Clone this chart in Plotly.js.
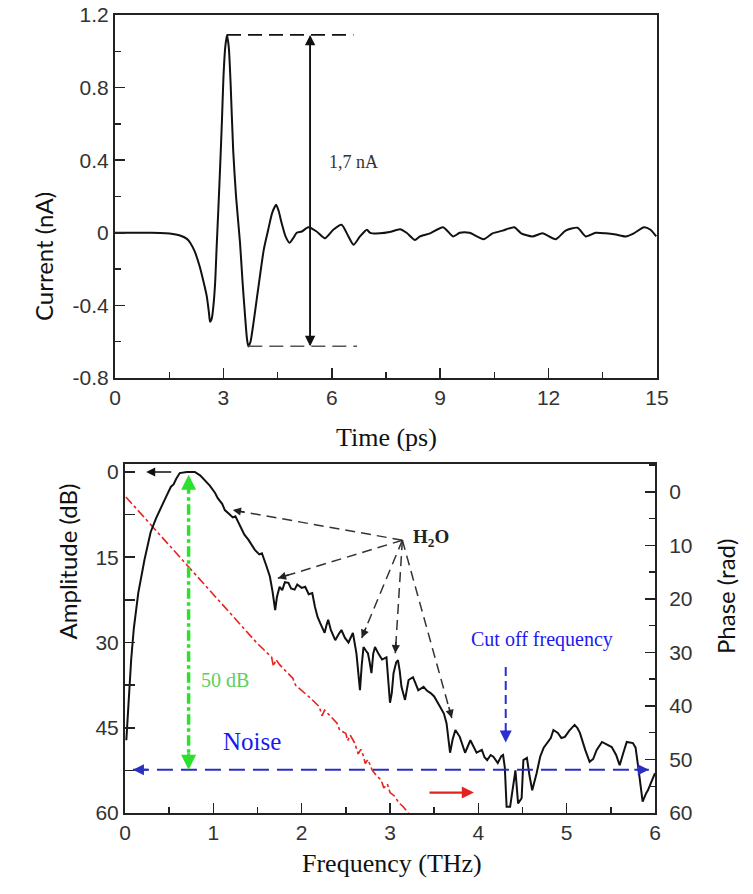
<!DOCTYPE html>
<html>
<head>
<meta charset="utf-8">
<script src="https://cdn.plot.ly/plotly-3.0.1.min.js"></script>
<style>
  html, body { margin: 0; padding: 0; background: #fff; }
  #chart { width: 753px; height: 894px; }
</style>
</head>
<body>
<div id="chart"></div>
<script>
// ---------- Top panel: THz pulse current vs time ----------
const timePs = [0, 0.5, 1.0, 1.4, 1.6, 1.8, 2.0, 2.08, 2.2, 2.35, 2.45, 2.54, 2.6, 2.63, 2.68, 2.72, 2.77, 2.81, 2.86, 2.91, 2.96, 3.0, 3.05, 3.1, 3.15, 3.2, 3.27, 3.35, 3.46, 3.53, 3.6, 3.65, 3.69, 3.75, 3.83, 3.92, 4.01, 4.12, 4.24, 4.35, 4.46, 4.53, 4.61, 4.72, 4.83, 4.93, 5.03, 5.17, 5.35, 5.58, 5.81, 6.04, 6.27, 6.46, 6.6, 6.78, 6.97, 7.06, 7.33, 7.6, 7.89, 8.07, 8.3, 8.44, 8.72, 9.08, 9.36, 9.54, 9.81, 10.2, 10.45, 10.73, 11.05, 11.24, 11.55, 11.83, 12.2, 12.47, 12.8, 13.03, 13.3, 13.58, 13.86, 14.13, 14.36, 14.64, 14.82, 14.98];
const currentNa = [0, 0, 0, -0.002, -0.006, -0.015, -0.035, -0.055, -0.1, -0.19, -0.27, -0.35, -0.44, -0.49, -0.47, -0.41, -0.28, -0.094, 0.13, 0.365, 0.62, 0.85, 1.02, 1.09, 1.02, 0.82, 0.457, 0.2, -0.055, -0.27, -0.46, -0.58, -0.626, -0.6, -0.5, -0.37, -0.24, -0.09, 0.017, 0.11, 0.154, 0.12, 0.055, -0.02, -0.055, -0.03, 0, 0.007, 0.03, 0.007, -0.03, 0.017, 0.044, -0.02, -0.066, -0.02, 0.017, 0, -0.003, 0.004, 0.02, 0, -0.04, -0.02, -0.003, 0.031, -0.02, 0, 0, -0.035, -0.003, 0.012, 0.031, -0.003, -0.02, -0.003, -0.035, 0.012, 0.028, -0.02, 0, -0.003, -0.01, -0.02, -0.003, 0.031, 0.017, -0.02];

// Peak-to-peak marker values
const peakTime = 3.1, peakValue = 1.09;
const troughTime = 3.69, troughValue = -0.625;
const peakLineEnd = 6.6, troughLineEnd = 6.7;
const p2pArrowTime = 5.4;
const p2pLabel = '1,7 nA', p2pLabelPos = [6.6, 0.39];

// ---------- Bottom panel: spectrum ----------
const freqTHz = [0.015, 0.04, 0.07, 0.1, 0.15, 0.22, 0.29, 0.35, 0.41, 0.47, 0.52, 0.55, 0.58, 0.62, 0.7, 0.79, 0.85, 0.9, 0.96, 1.02, 1.05, 1.1, 1.13, 1.18, 1.22, 1.25, 1.3, 1.35, 1.4, 1.47, 1.52, 1.55, 1.6, 1.64, 1.67, 1.70, 1.72, 1.75, 1.78, 1.81, 1.85, 1.88, 1.92, 1.95, 2.0, 2.04, 2.08, 2.12, 2.15, 2.18, 2.21, 2.24, 2.26, 2.28, 2.30, 2.33, 2.36, 2.38, 2.42, 2.45, 2.49, 2.53, 2.56, 2.58, 2.62, 2.64, 2.66, 2.68, 2.70, 2.73, 2.75, 2.77, 2.79, 2.81, 2.83, 2.87, 2.91, 2.96, 2.98, 3.0, 3.02, 3.04, 3.07, 3.09, 3.11, 3.13, 3.17, 3.21, 3.26, 3.29, 3.32, 3.38, 3.42, 3.46, 3.5, 3.57, 3.61, 3.64, 3.66, 3.68, 3.71, 3.74, 3.79, 3.85, 3.91, 3.95, 3.98, 4.04, 4.07, 4.10, 4.14, 4.17, 4.22, 4.26, 4.28, 4.30, 4.32, 4.36, 4.40, 4.42, 4.45, 4.49, 4.51, 4.55, 4.58, 4.61, 4.66, 4.70, 4.74, 4.78, 4.82, 4.85, 4.9, 4.94, 4.98, 5.03, 5.09, 5.12, 5.15, 5.21, 5.26, 5.3, 5.34, 5.40, 5.45, 5.51, 5.56, 5.6, 5.64, 5.68, 5.75, 5.78, 5.81, 5.84, 5.86, 5.9, 5.92, 5.96, 6.0];
const amplitudeDb = [47.2, 40, 33, 27.5, 21.3, 15.5, 10.6, 8.2, 6.1, 4.2, 2.6, 2.2, 1.2, 0.2, 0, 0, 0.6, 1.4, 2.4, 3.7, 4.6, 5.6, 6.7, 7.4, 8, 7.8, 9.5, 11, 12, 13.7, 14.5, 14.3, 16.5, 18.4, 21, 24.3, 22, 20.2, 20.8, 19.4, 19.5, 20.5, 20.7, 19.8, 20.4, 20.2, 21.5, 21.3, 23.7, 25.5, 26.6, 27.6, 28.3, 27, 26, 27.8, 28.9, 29.6, 28.5, 27.8, 29.2, 30, 29, 28.3, 31.9, 35, 38.4, 34, 30.8, 31.5, 31.9, 33.5, 35.4, 32, 30.8, 32, 33, 32.6, 36, 40.6, 38.9, 35.4, 33.5, 33.1, 35, 37.8, 40.1, 36.6, 36.1, 37.2, 38.4, 37.8, 38.5, 38.9, 39.5, 41.4, 42.5, 44.2, 46.5, 49.4, 47, 45.4, 46.6, 49.4, 47.2, 48.5, 49.4, 48.9, 50.2, 50.7, 49.8, 50.1, 51.2, 50.0, 49.8, 52, 58.9, 58.9, 54.2, 52.5, 58.3, 57.4, 50.7, 50.3, 53.5, 56, 53, 50.1, 48.5, 47.7, 46.8, 45.4, 45.9, 46.8, 46.6, 45.5, 44.5, 45, 45.9, 48.9, 51, 50.5, 48.9, 47.5, 47.9, 48.4, 49.8, 51.6, 49.5, 47.5, 47.7, 48.5, 51.9, 56, 58, 56.5, 56, 54.5, 53];

const noiseFreq = [0.01, 0.3, 0.6, 0.9, 1.2, 1.5, 1.66, 1.68, 1.71, 1.75, 1.9, 1.93, 2.1, 2.2, 2.23, 2.26, 2.4, 2.43, 2.5, 2.52, 2.55, 2.6, 2.64, 2.67, 2.7, 2.72, 2.75, 2.8, 2.85, 2.9, 2.93, 2.97, 3.0, 3.05, 3.1, 3.15, 3.23];
const noiseDb = [4.4, 9.4, 14.6, 19.8, 25, 30.2, 32.6, 34.2, 33.0, 33.9, 36.3, 37.5, 39.8, 41.3, 42.9, 41.9, 44.2, 45.4, 46.0, 47.3, 46.3, 47.7, 49.6, 48.8, 50.0, 51.3, 50.6, 52.5, 53.5, 54.2, 55.6, 54.9, 56.4, 57.0, 58.2, 58.9, 60.5];

// Annotation anchor values (data coordinates)
const peakArrowTail = [0.54, 0], peakArrowTip = [0.24, 0];
const dynRangeFreq = 0.72, dynRangeTop = 0.5, dynRangeBottom = 52.4;
const dynRangeLabel = '50 dB', dynRangeLabelPos = [1.13, 36.6];
const noiseLevelDb = 52.4, noiseLineStart = 0.09, noiseLineEnd = 5.93;
const noiseLabel = 'Noise', noiseLabelPos = [1.44, 47.5];
const cutoffFreq = 4.31, cutoffTop = 34.3, cutoffBottom = 47.6;
const cutoffLabel = 'Cut off frequency', cutoffLabelPos = [4.72, 29.4];
const phaseArrowFrom = [3.43, 56.4], phaseArrowTo = [3.95, 56.4];
const h2oLabel = 'H<sub>2</sub>O', h2oLabelPos = [3.46, 11.6];
const h2oSource = [3.14, 12];
const h2oTargetsFreq = [1.22, 1.73, 2.68, 3.06, 3.70];
const h2oTargetsDb = [6.7, 18.7, 29.2, 31.9, 43.3];

// Axis tick values
const topXTicks = [0, 3, 6, 9, 12, 15];
const topYTicks = [1.2, 0.8, 0.4, 0, -0.4, -0.8];
const topYTickText = ['1.2', '0.8', '0.4', '0', '-0.4', '-0.8'];
const botXTicks = [0, 1, 2, 3, 4, 5, 6];
const ampTicks = [0, 15, 30, 45, 60];
const phaseTicks = [0, 10, 20, 30, 40, 50, 60];

// ---------- Layout geometry (pixels) ----------
const W = 753, H = 894;
const px = v => v / W;
const py = v => 1 - v / H;
const topBox = {l: 115, r: 657, t: 15, b: 378};
const botBox = {l: 125, r: 655, t: 464, b: 813};
const ampRange = [60, -1.4];
const phaseRange = [60, -5.2];

const SANS = "'Liberation Sans', Arial, sans-serif";
const SERIF = "'Liberation Serif', 'Times New Roman', Times, serif";
const TITLE_SANS = "Lato, 'Open Sans', sans-serif";
const tickFont = () => ({family: SANS, size: 21, color: '#333'});
const serifFont = (size, color) => ({family: SERIF, size: size, color: color});
const frameColor = '#222';

const traces = [
  {x: timePs, y: currentNa, xaxis: 'x', yaxis: 'y', mode: 'lines',
   line: {color: '#111', width: 2, shape: 'spline', smoothing: 0.6}, showlegend: false, hoverinfo: 'skip'},
  {x: noiseFreq, y: noiseDb, xaxis: 'x2', yaxis: 'y2', mode: 'lines',
   line: {color: '#e3231f', width: 1.6, dash: 'dashdot'}, showlegend: false, hoverinfo: 'skip'},
  {x: freqTHz, y: amplitudeDb, xaxis: 'x2', yaxis: 'y2', mode: 'lines',
   line: {color: '#111', width: 2}, showlegend: false, hoverinfo: 'skip'},
  {x: [], y: [], xaxis: 'x2', yaxis: 'y3', mode: 'lines', showlegend: false, hoverinfo: 'skip'}
];

const shapes = [];
const annotations = [];
const arrowOnly = (o) => Object.assign({text: '', showarrow: true, arrowhead: 2}, o);

// Top panel markers
shapes.push({type: 'line', xref: 'x', yref: 'y', x0: peakTime, y0: peakValue, x1: peakLineEnd, y1: peakValue,
  line: {color: '#111', width: 1.8, dash: '14px,7px'}});
shapes.push({type: 'line', xref: 'x', yref: 'y', x0: troughTime, y0: troughValue, x1: troughLineEnd, y1: troughValue,
  line: {color: '#555', width: 1.5, dash: '14px,7px'}});
annotations.push(arrowOnly({xref: 'x', yref: 'y', axref: 'x', ayref: 'y', x: p2pArrowTime, y: peakValue, ax: p2pArrowTime, ay: troughValue,
  arrowsize: 1.3, arrowwidth: 1.6, arrowcolor: '#111'}));
annotations.push(arrowOnly({xref: 'x', yref: 'y', axref: 'x', ayref: 'y', x: p2pArrowTime, y: troughValue, ax: p2pArrowTime, ay: peakValue,
  arrowsize: 1.3, arrowwidth: 1.6, arrowcolor: '#111'}));
annotations.push({xref: 'x', yref: 'y', x: p2pLabelPos[0], y: p2pLabelPos[1], text: p2pLabel, showarrow: false,
  font: serifFont(18, '#333')});

// Bottom panel markers
annotations.push(arrowOnly({xref: 'x2', yref: 'y2', axref: 'x2', ayref: 'y2', x: peakArrowTip[0], y: peakArrowTip[1], ax: peakArrowTail[0], ay: peakArrowTail[1],
  arrowsize: 1.2, arrowwidth: 1.5, arrowcolor: '#111'}));

// green dynamic range
shapes.push({type: 'line', xref: 'x2', yref: 'y2', x0: dynRangeFreq, y0: dynRangeTop + 1.5, x1: dynRangeFreq, y1: dynRangeBottom - 1.5,
  line: {color: '#2ee02e', width: 3.5, dash: 'dashdot'}});
annotations.push(arrowOnly({xref: 'x2', yref: 'y2', x: dynRangeFreq, y: dynRangeTop, ax: 0, ay: 18,
  arrowsize: 1, arrowwidth: 3, arrowcolor: '#2ee02e'}));
annotations.push(arrowOnly({xref: 'x2', yref: 'y2', x: dynRangeFreq, y: dynRangeBottom, ax: 0, ay: -18,
  arrowsize: 1, arrowwidth: 3, arrowcolor: '#2ee02e'}));
annotations.push({xref: 'x2', yref: 'y2', x: dynRangeLabelPos[0], y: dynRangeLabelPos[1], text: dynRangeLabel, showarrow: false,
  font: serifFont(20, '#5ccf5c')});

// noise level line
shapes.push({type: 'line', xref: 'x2', yref: 'y2', x0: noiseLineStart, y0: noiseLevelDb, x1: noiseLineEnd, y1: noiseLevelDb,
  line: {color: '#2a2fc0', width: 2, dash: '16px,8px'}});
annotations.push(arrowOnly({xref: 'x2', yref: 'y2', x: noiseLineStart, y: noiseLevelDb, ax: 16, ay: 0,
  arrowsize: 1.1, arrowwidth: 2, arrowcolor: '#2a2fc0'}));
annotations.push(arrowOnly({xref: 'x2', yref: 'y2', x: noiseLineEnd, y: noiseLevelDb, ax: -16, ay: 0,
  arrowsize: 1.1, arrowwidth: 2, arrowcolor: '#2a2fc0'}));
annotations.push({xref: 'x2', yref: 'y2', x: noiseLabelPos[0], y: noiseLabelPos[1], text: noiseLabel, showarrow: false,
  font: serifFont(25, '#1a1af0')});

// cut off frequency
shapes.push({type: 'line', xref: 'x2', yref: 'y2', x0: cutoffFreq, y0: cutoffTop, x1: cutoffFreq, y1: cutoffBottom - 1.5,
  line: {color: '#2a2fd0', width: 2, dash: '9px,5px'}});
annotations.push(arrowOnly({xref: 'x2', yref: 'y2', x: cutoffFreq, y: cutoffBottom, ax: 0, ay: -14,
  arrowsize: 1.2, arrowwidth: 2, arrowcolor: '#2a2fd0'}));
annotations.push({xref: 'x2', yref: 'y2', x: cutoffLabelPos[0], y: cutoffLabelPos[1], text: cutoffLabel, showarrow: false,
  font: serifFont(20, '#1a1af0')});

// red phase arrow
annotations.push(arrowOnly({xref: 'x2', yref: 'y2', axref: 'x2', ayref: 'y2', x: phaseArrowTo[0], y: phaseArrowTo[1], ax: phaseArrowFrom[0], ay: phaseArrowFrom[1],
  arrowsize: 1.1, arrowwidth: 2.2, arrowcolor: '#e3231f'}));

// H2O arrows
const pxPerX = (botBox.r - botBox.l) / 6;
const pxPerY = (botBox.b - botBox.t) / (ampRange[0] - ampRange[1]);
annotations.push({xref: 'x2', yref: 'y2', x: h2oLabelPos[0], y: h2oLabelPos[1], text: '<b>' + h2oLabel + '</b>', showarrow: false,
  font: serifFont(19, '#222')});
h2oTargetsFreq.forEach((f, i) => {
  const d = h2oTargetsDb[i];
  shapes.push({type: 'line', xref: 'x2', yref: 'y2', x0: h2oSource[0], y0: h2oSource[1], x1: f, y1: d,
    line: {color: '#333', width: 1.5, dash: '10px,6px'}});
  const dx = (h2oSource[0] - f) * pxPerX;
  const dy = (h2oSource[1] - d) * pxPerY;
  const len = Math.hypot(dx, dy);
  annotations.push(arrowOnly({xref: 'x2', yref: 'y2', x: f, y: d, ax: dx / len * 13, ay: dy / len * 13,
    arrowsize: 1.1, arrowwidth: 1.5, arrowcolor: '#222'}));
});

// Axis titles
annotations.push({xref: 'paper', yref: 'paper', x: px(27), y: py(190), text: 'Current (nA)', textangle: -90, showarrow: false,
  font: {family: TITLE_SANS, size: 24, color: '#111'}});
annotations.push({xref: 'paper', yref: 'paper', x: px(386), y: py(437), text: 'Time (ps)', showarrow: false,
  font: serifFont(26, '#111')});
annotations.push({xref: 'paper', yref: 'paper', x: px(50), y: py(642), text: 'Amplitude (dB)', textangle: -90, showarrow: false,
  font: {family: TITLE_SANS, size: 24, color: '#111'}});
annotations.push({xref: 'paper', yref: 'paper', x: px(742), y: py(656), text: 'Phase (rad)', textangle: -90, showarrow: false,
  font: {family: TITLE_SANS, size: 24, color: '#111'}});
annotations.push({xref: 'paper', yref: 'paper', x: px(392), y: py(880), text: 'Frequency (THz)', showarrow: false,
  font: serifFont(26, '#111')});

const axisCommon = () => ({
  showgrid: false, zeroline: false, showline: true, linecolor: frameColor, linewidth: 2,
  ticks: 'inside', ticklen: 10, tickwidth: 1.6, tickcolor: frameColor, tickfont: tickFont()
});

const layout = {
  width: W, height: H,
  margin: {l: 0, r: 0, t: 0, b: 0},
  paper_bgcolor: '#fff', plot_bgcolor: '#fff',
  showlegend: false,
  xaxis: Object.assign(axisCommon(), {
    domain: [px(topBox.l), px(topBox.r)], anchor: 'y', range: [0, 15], mirror: true,
    tickmode: 'array', tickvals: topXTicks, ticktext: topXTicks.map(String),
    minor: {dtick: 1.5, ticks: 'inside', ticklen: 6, tickwidth: 1.4, tickcolor: frameColor}
  }),
  yaxis: Object.assign(axisCommon(), {
    domain: [py(topBox.b), py(topBox.t)], anchor: 'x', range: [-0.8, 1.2], mirror: true,
    tickmode: 'array', tickvals: topYTicks, ticktext: topYTickText,
    minor: {dtick: 0.2, ticks: 'inside', ticklen: 6, tickwidth: 1.4, tickcolor: frameColor}
  }),
  xaxis2: Object.assign(axisCommon(), {
    domain: [px(botBox.l), px(botBox.r)], anchor: 'y2', range: [0, 6], mirror: true,
    tickmode: 'array', tickvals: botXTicks, ticktext: botXTicks.map(String),
    minor: {dtick: 0.5, ticks: 'inside', ticklen: 6, tickwidth: 1.4, tickcolor: frameColor}
  }),
  yaxis2: Object.assign(axisCommon(), {
    domain: [py(botBox.b), py(botBox.t)], anchor: 'x2', range: ampRange, mirror: true,
    tickmode: 'array', tickvals: ampTicks, ticktext: ampTicks.map(String),
    minor: {dtick: 7.5, ticks: 'inside', ticklen: 10, tickwidth: 1.4, tickcolor: frameColor}
  }),
  yaxis3: Object.assign(axisCommon(), {
    domain: [py(botBox.b), py(botBox.t)], anchor: 'x2', overlaying: 'y2', side: 'right', range: phaseRange,
    tickmode: 'array', tickvals: phaseTicks, ticktext: phaseTicks.map(String), ticklabelstandoff: 8,
    minor: {dtick: 5, ticks: 'inside', ticklen: 6, tickwidth: 1.4, tickcolor: frameColor}
  }),
  shapes: shapes,
  annotations: annotations
};

Plotly.newPlot('chart', traces, layout, {displayModeBar: false, staticPlot: true});
</script>
</body>
</html>
